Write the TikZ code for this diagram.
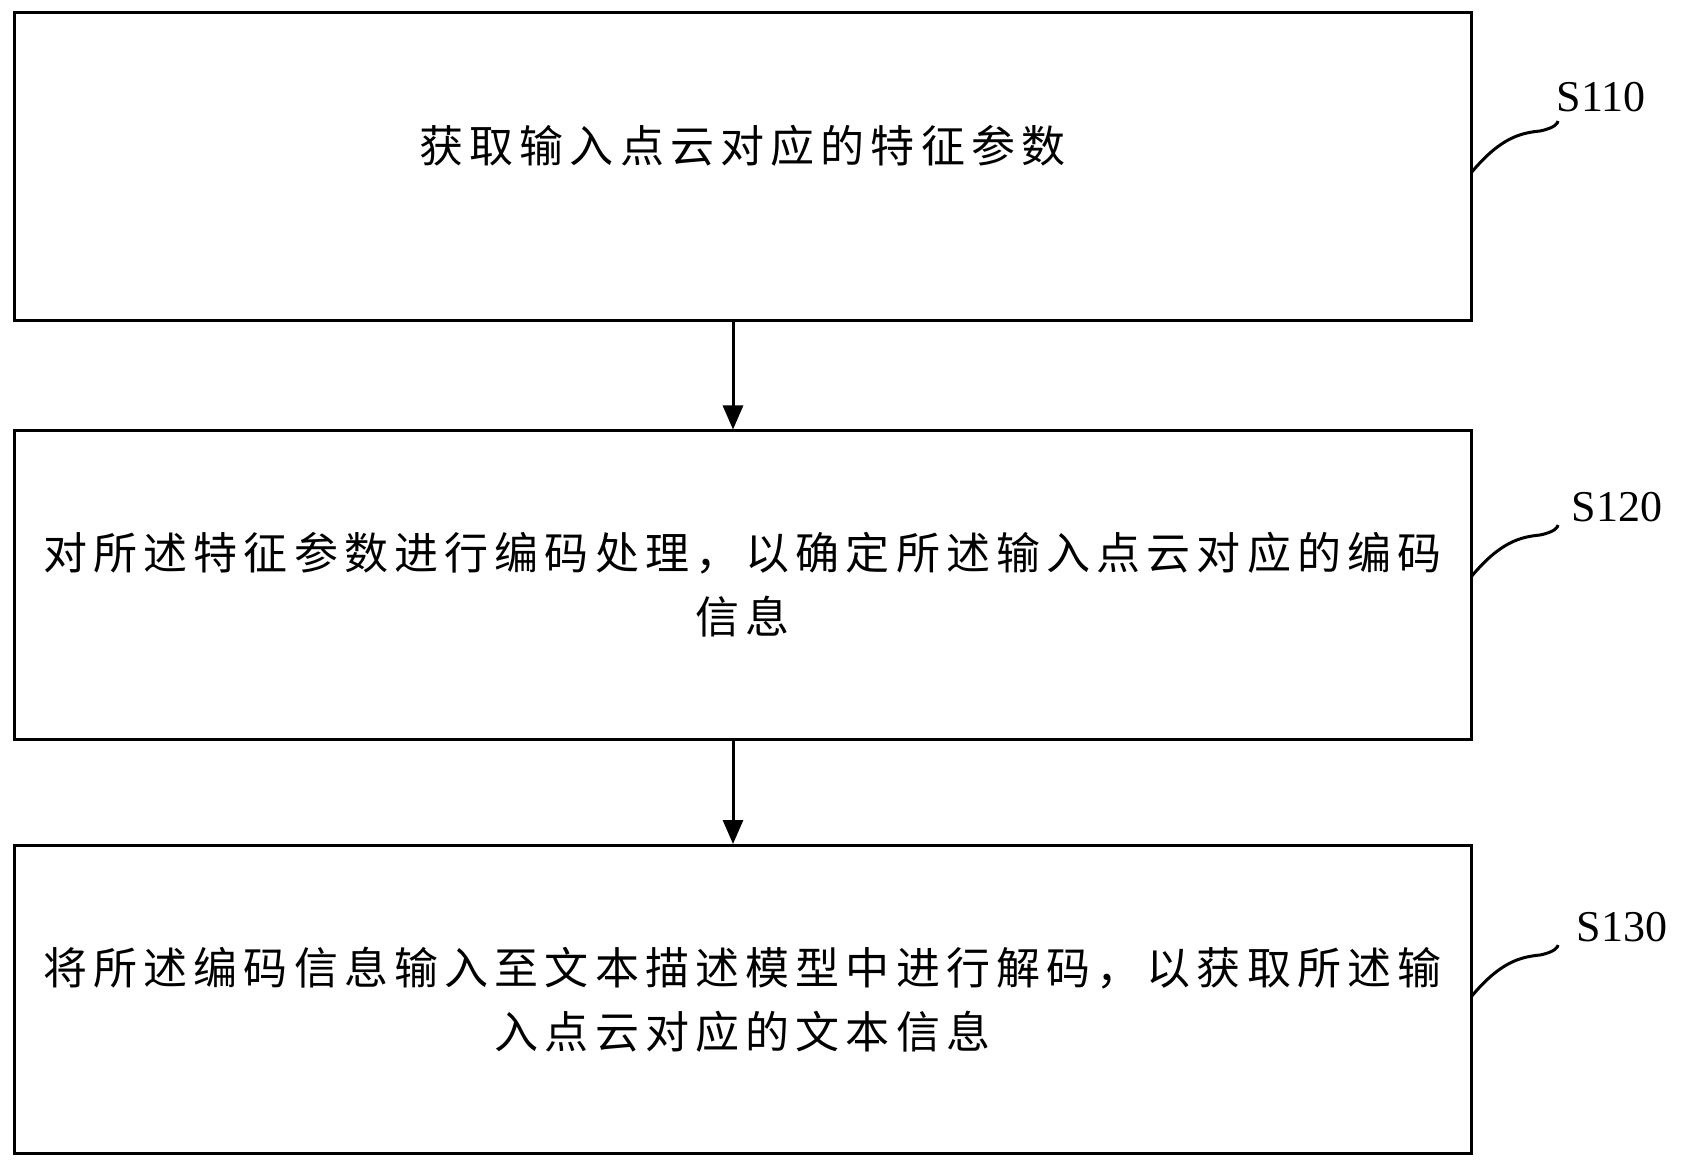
\documentclass[tikz,border=0pt]{standalone}
\usepackage{fontspec}
\setmainfont{Liberation Serif}
\newfontfamily\cjk[LetterSpace=14]{Noto Sans CJK SC}
\usetikzlibrary{arrows.meta,positioning}
\begin{document}
\begin{tikzpicture}[x=0.5pt,y=-0.5pt,
  box/.style={draw,line width=1.5pt,minimum width=728.5pt,minimum height=154pt,
    inner sep=0pt,align=center,font=\cjk\fontsize{22}{32}\selectfont},
  arr/.style={-{Triangle[length=12pt,width=10pt]},line width=1.5pt},
  tag/.style={font=\fontsize{22}{24}\selectfont},
  wave/.style={line width=1.5pt}]
\useasboundingbox (0,0) rectangle (1687,1170);
% steps
\node[box] (s1) at (742.5,167) {\raisebox{23pt}{获取输入点云对应的特征参数}};
\node[box] (s2) at (742.5,585) {对所述特征参数进行编码处理，以确定所述输入点云对应的编码\\信息};
\node[box] (s3) at (742.5,999.5) {将所述编码信息输入至文本描述模型中进行解码，以获取所述输\\入点云对应的文本信息};
% arrows
\draw[arr] (s1.south -| 733,0) -- (s2.north -| 733,0);
\draw[arr] (s2.south -| 733,0) -- (s3.north -| 733,0);
% step tags
\node[tag] (t1) at (1601,97) {S110};
\node[tag] (t2) at (1617,507) {S120};
\node[tag] (t3) at (1622,927) {S130};
\foreach \s/\t/\y in {s1/t1/173,s2/t2/577,s3/t3/997}{
  \coordinate (w\s) at (1558,\y-52);
  \draw[wave] (1471,\y) .. controls (1500,\y-35) and (1520,\y-40) .. (1540,\y-42)
    .. controls (1555,\y-45) and (1558,\y-50) .. (w\s);
}
\end{tikzpicture}
\end{document}
